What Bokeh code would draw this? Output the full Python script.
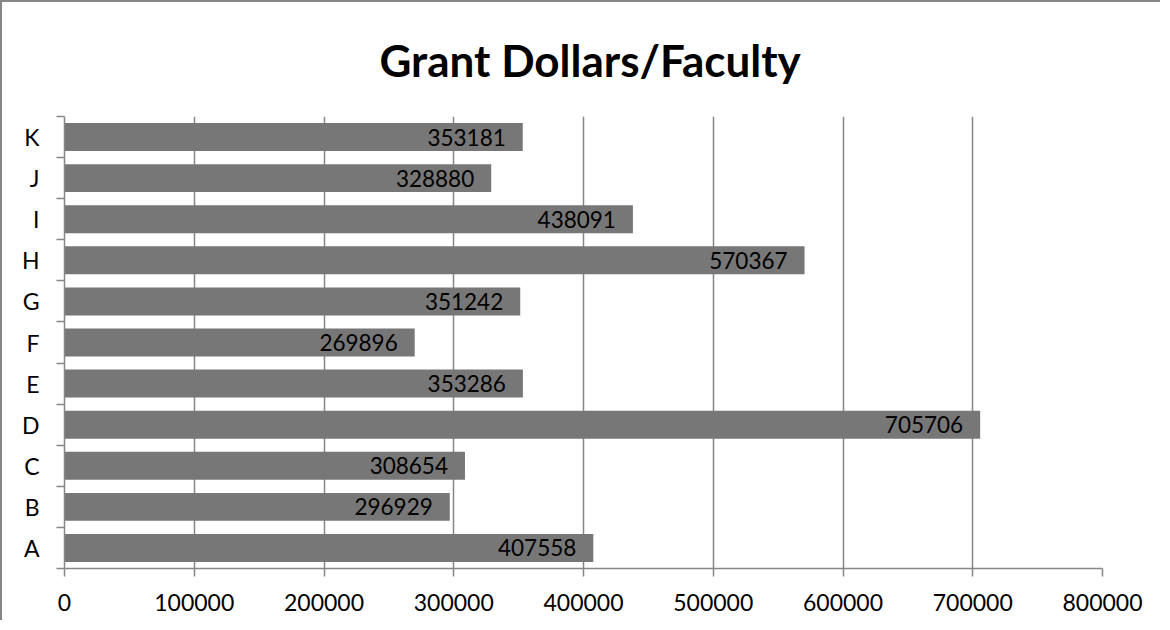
from bokeh.plotting import figure
from bokeh.models import ColumnDataSource, FixedTicker, LabelSet, Range1d
from bokeh.core.properties import value
from bokeh.embed import file_html
from bokeh.resources import INLINE

categories = ["A", "B", "C", "D", "E", "F", "G", "H", "I", "J", "K"]
grant_dollars = [407558, 296929, 308654, 705706, 353286, 269896, 351242, 570367, 438091, 328880, 353181]
x_tick_values = [0, 100000, 200000, 300000, 400000, 500000, 600000, 700000, 800000]
x_tick_labels = ["0", "100000", "200000", "300000", "400000", "500000", "600000", "700000", "800000"]

GRID = "#868686"
BAR = "#777777"
FONT = "Lato"

positions = [i + 0.5 for i in range(len(categories))]
boundaries = list(range(len(categories) + 1))

source = ColumnDataSource(dict(y=positions, v=grant_dollars, label=[str(v) for v in grant_dollars]))

p = figure(width=1160, height=620,
           x_range=Range1d(0, x_tick_values[-1]), y_range=Range1d(0, len(categories)),
           output_backend="svg", toolbar_location=None,
           min_border_left=62, min_border_right=60, min_border_top=113, min_border_bottom=54,
           background_fill_color="white", border_fill_color="white")
p.outline_line_color = None
p.styles = {"border-left": "2px solid #868686", "border-top": "2px solid #868686"}

p.hbar(y="y", left=0, right="v", height=0.68, source=source, fill_color=BAR, line_color=None)

labels = LabelSet(x="v", y="y", text="label", source=source, x_offset=-17,
                  text_align="right", text_baseline="middle",
                  text_font=value(FONT), text_font_size="22.5px", text_color="black")
p.add_layout(labels)

p.title.text = "Grant Dollars/Faculty"
p.title.text_font = FONT
p.title.text_font_size = "44px"
p.title.text_font_style = "bold"
p.title.text_color = "black"
p.title.align = "left"
p.title.offset = 315
p.title.vertical_align = "middle"
p.title.standoff = 60

xa = p.xaxis[0]
xa.ticker = FixedTicker(ticks=x_tick_values, minor_ticks=[])
xa.major_label_overrides = {v: l for v, l in zip(x_tick_values, x_tick_labels)}
xa.axis_line_color = GRID
xa.axis_line_width = 1.5
xa.major_tick_line_color = GRID
xa.major_tick_line_width = 1.5
xa.major_tick_out = 8
xa.major_tick_in = 0
xa.minor_tick_line_color = None
xa.major_label_text_font = FONT
xa.major_label_text_font_size = "23px"
xa.major_label_text_color = "black"
xa.major_label_standoff = 17

ya = p.yaxis[0]
ya.ticker = FixedTicker(ticks=positions, minor_ticks=boundaries)
ya.major_label_overrides = {pos: c for pos, c in zip(positions, categories)}
ya.axis_line_color = GRID
ya.axis_line_width = 1.5
ya.major_tick_line_color = None
ya.major_tick_out = 8
ya.major_tick_in = 0
ya.minor_tick_line_color = GRID
ya.minor_tick_line_width = 1.5
ya.minor_tick_out = 8
ya.minor_tick_in = 0
ya.major_label_text_font = FONT
ya.major_label_text_font_size = "23px"
ya.major_label_text_color = "black"
ya.major_label_standoff = 17

p.xgrid.grid_line_color = GRID
p.xgrid.grid_line_width = 1.5
p.ygrid.grid_line_color = None

open("out.html", "w").write(file_html(p, INLINE))
